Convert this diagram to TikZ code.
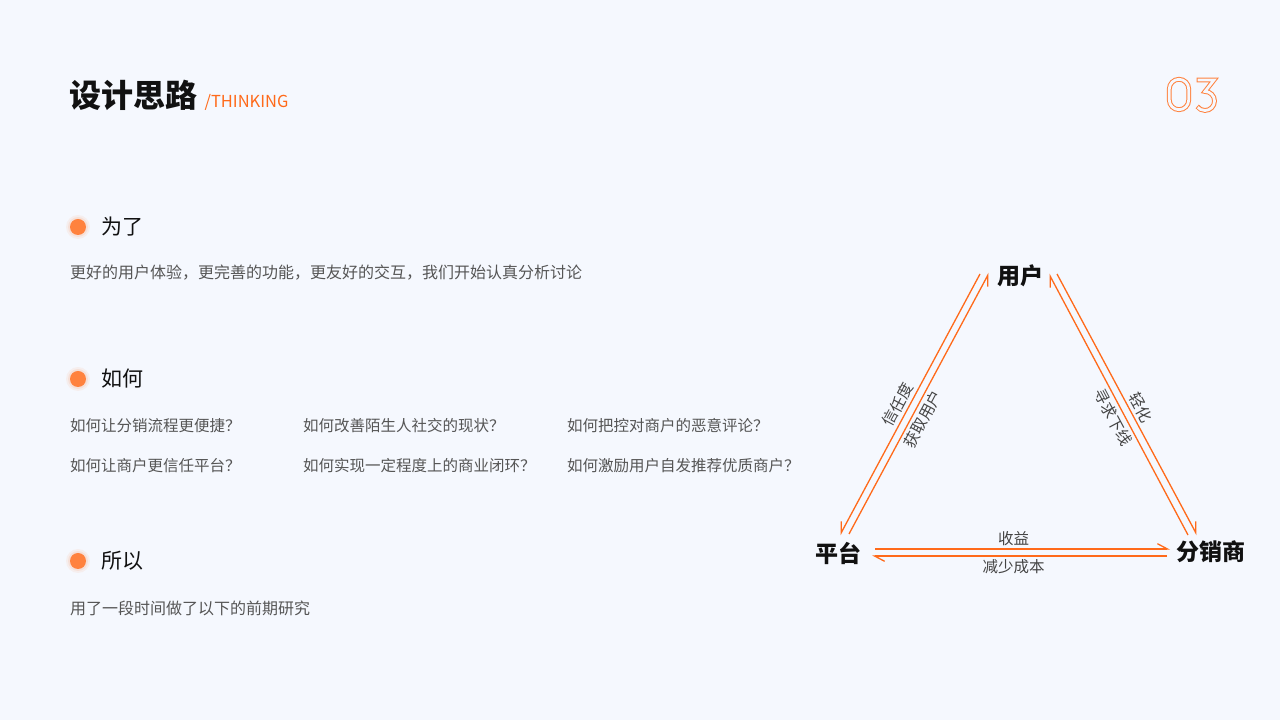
\documentclass[tikz,border=0pt]{standalone}
\usepackage{fontspec}
\usepackage{tikz}
\usetikzlibrary{positioning}
\usetikzlibrary{arrows.meta}
\setmainfont{Noto Sans CJK SC}

\definecolor{bgBlue}{RGB}{245,248,254}
\definecolor{lineOrange}{RGB}{255,106,26}
\definecolor{dotOrange}{RGB}{255,130,62}
\definecolor{txtGray}{RGB}{85,85,85}
\definecolor{headBlack}{RGB}{17,17,17}

\tikzset{
	heading/.style={anchor=west, inner sep=0pt, text=headBlack, font=\fontsize{21}{24}\selectfont},
	bodytext/.style={anchor=west, inner sep=0pt, text=txtGray, font=\fontsize{16}{19}\selectfont},
	question/.style={anchor=west, inner sep=0pt, text=txtGray, font=\fontsize{15.5}{18}\selectfont},
	role/.style={inner sep=0pt, text=headBlack, font=\fontsize{23}{26}\selectfont\bfseries},
	flow/.style={draw=lineOrange, line width=1.3pt},
	edgelabel/.style={text=txtGray!80!black, font=\fontsize{15.5}{18}\selectfont, inner sep=3pt},
	glyphout/.style={draw=dotOrange, line width=4.8pt},
	glyphin/.style={draw=bgBlue, line width=2.8pt}
}

\begin{document}
\begin{tikzpicture}[x=1pt, y=1pt]
	\fill[bgBlue] (0,0) rectangle (1280,720);
	\useasboundingbox (0,0) rectangle (1280,720);

	% title line
	\node[anchor=west, inner sep=0pt, text=headBlack, font=\fontsize{32}{36}\selectfont\bfseries](title) at (69,625){设计思路};
	\node[anchor=base west, inner sep=0pt, text=lineOrange, font=\fontsize{16.5}{20}\selectfont](titleSub) at ([xshift=7pt]title.base east){/THINKING};

	% page number 03, outlined
	\draw[glyphout] (1169.3,620) -- (1169.3,631) arc[start angle=180, end angle=0, radius=9.7] -- (1188.7,620) arc[start angle=0, end angle=-180, radius=9.7] -- cycle;
	\draw[glyphin] (1169.3,620) -- (1169.3,631) arc[start angle=180, end angle=0, radius=9.7] -- (1188.7,620) arc[start angle=0, end angle=-180, radius=9.7] -- cycle;
	\draw[glyphout] (1196.5,640) -- (1214,640) -- (1205,628.5) arc[start angle=90, end angle=-145, radius=9.5];
	\draw[glyphin, shorten <=1pt, shorten >=1pt] (1196.5,640) -- (1214,640) -- (1205,628.5) arc[start angle=90, end angle=-145, radius=9.5];

	% bullets
	\fill[dotOrange, opacity=0.08] (78,493) circle (12);
	\fill[dotOrange, opacity=0.12] (78,493) circle (10);
	\fill[dotOrange] (78,493) circle (8);
	\fill[dotOrange, opacity=0.08] (78,341) circle (12);
	\fill[dotOrange, opacity=0.12] (78,341) circle (10);
	\fill[dotOrange] (78,341) circle (8);
	\fill[dotOrange, opacity=0.08] (78,159) circle (12);
	\fill[dotOrange, opacity=0.12] (78,159) circle (10);
	\fill[dotOrange] (78,159) circle (8);

	\node[heading](whyHead) at (101,493){为了};
	\node[bodytext](whyText) at (70,447){更好的用户体验，更完善的功能，更友好的交互，我们开始认真分析讨论};

	\node[heading](howHead) at (101,341){如何};
	\node[question](howA) at (70,294){如何让分销流程更便捷？};
	\node[question](howB) at (303,294){如何改善陌生人社交的现状？};
	\node[question](howC) at (567,294){如何把控对商户的恶意评论？};
	\node[question](howD) at (70,254){如何让商户更信任平台？};
	\node[question](howE) at (303,254){如何实现一定程度上的商业闭环？};
	\node[question](howF) at (567,254){如何激励用户自发推荐优质商户？};

	\node[heading](soHead) at (101,159){所以};
	\node[bodytext](soText) at (70,112){用了一段时间做了以下的前期研究};

	% triangle
	\node[role](user) at (1020,444){用户};
	\node[role](platform) at (838,167){平台};
	\node[role](dealer) at (1211,168){分销商};

	\draw[flow, -{Straight Barb[harpoon, swap, length=10pt, angle'=56]}] ([shift={(-40,2)}]user.center) -- ([shift={(2,18)}]platform.center)
		node[edgelabel, pos=0.52, sloped, above]{信任度};
	\draw[flow, -{Straight Barb[harpoon, swap, length=10pt, angle'=56]}] ([shift={(11,19)}]platform.center) -- ([shift={(-31,3)}]user.center)
		node[edgelabel, pos=0.46, sloped, below]{获取用户};

	\draw[flow, -{Straight Barb[harpoon, length=10pt, angle'=56]}] ([shift={(37,2)}]user.center) -- ([shift={(-14,17)}]dealer.center)
		node[edgelabel, pos=0.53, sloped, above]{轻化};
	\draw[flow, -{Straight Barb[harpoon, length=10pt, angle'=56]}] ([shift={(-23,17)}]dealer.center) -- ([shift={(29,2)}]user.center)
		node[edgelabel, pos=0.47, sloped, below]{寻求下线};

	\draw[flow, -{Straight Barb[harpoon, length=10pt, angle'=56]}] ([shift={(37,4)}]platform.center) -- ([shift={(-41,3)}]dealer.center)
		node[edgelabel, pos=0.47, above]{收益};
	\draw[flow, -{Straight Barb[harpoon, length=10pt, angle'=56]}] ([shift={(-44,-4)}]dealer.center) -- ([shift={(34,-3)}]platform.center)
		node[edgelabel, pos=0.52, below]{减少成本};

\end{tikzpicture}
\end{document}
